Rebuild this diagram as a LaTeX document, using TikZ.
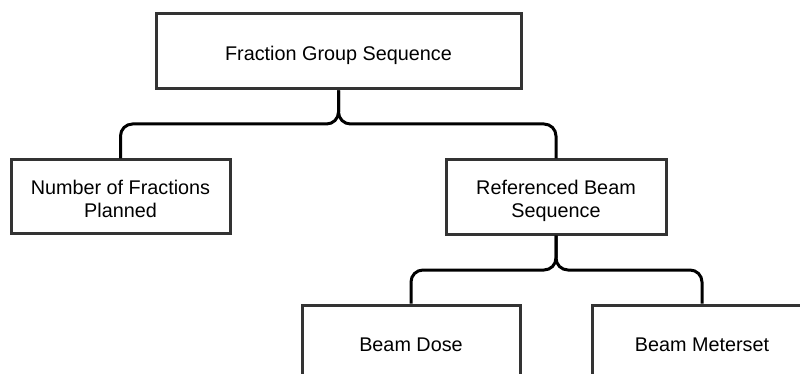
\documentclass[tikz,border=0pt]{standalone}
\usepackage{fontspec}
\setmainfont{Liberation Sans}
\definecolor{boxline}{HTML}{333333}
% box label: centred lines, set a little below the box middle
\newcommand\boxtext[1]{\raisebox{-4.5pt}[\height][\depth]{\begin{tabular}{@{}c@{}}#1\end{tabular}}}
\begin{document}
\begin{tikzpicture}[x=1pt,y=-1pt,
  box/.style={draw=boxline, line width=3pt, fill=white, rectangle,
    inner sep=0pt, font=\fontsize{19.8}{23}\selectfont},
  conn/.style={draw=black, line width=3pt, rounded corners=12pt}]
  \useasboundingbox (0,0) rectangle (800,374);
  \begin{scope}
    \clip (0,0) rectangle (800,374);
    % tree nodes
    \node[box, minimum width=365pt, minimum height=75pt] (fgs) at (338.5,51.5) {\boxtext{Fraction Group Sequence}};
    \node[box, minimum width=219pt, minimum height=73pt] (nfp) at (120.5,196.5) {\boxtext{Number of Fractions\\Planned}};
    \node[box, minimum width=220pt, minimum height=74pt] (rbs) at (556,197) {\boxtext{Referenced Beam\\Sequence}};
    \node[box, minimum width=218pt, minimum height=75pt] (bd) at (411,342.5) {\boxtext{Beam Dose}};
    \node[box, minimum width=220pt, minimum height=75pt] (bm) at (702,342.5) {\boxtext{Beam Meterset}};
    % brace-shaped connectors
    \coordinate (j1) at (338.5,124);
    \coordinate (j2) at (556,270);
    \draw[conn] (nfp.north) |- (j1) -- (fgs.south);
    \draw[conn] (rbs.north) |- (j1) -- (fgs.south);
    \draw[conn] (bd.north) |- (j2) -- (rbs.south);
    \draw[conn] (bm.north) |- (j2) -- (rbs.south);
  \end{scope}
\end{tikzpicture}
\end{document}
